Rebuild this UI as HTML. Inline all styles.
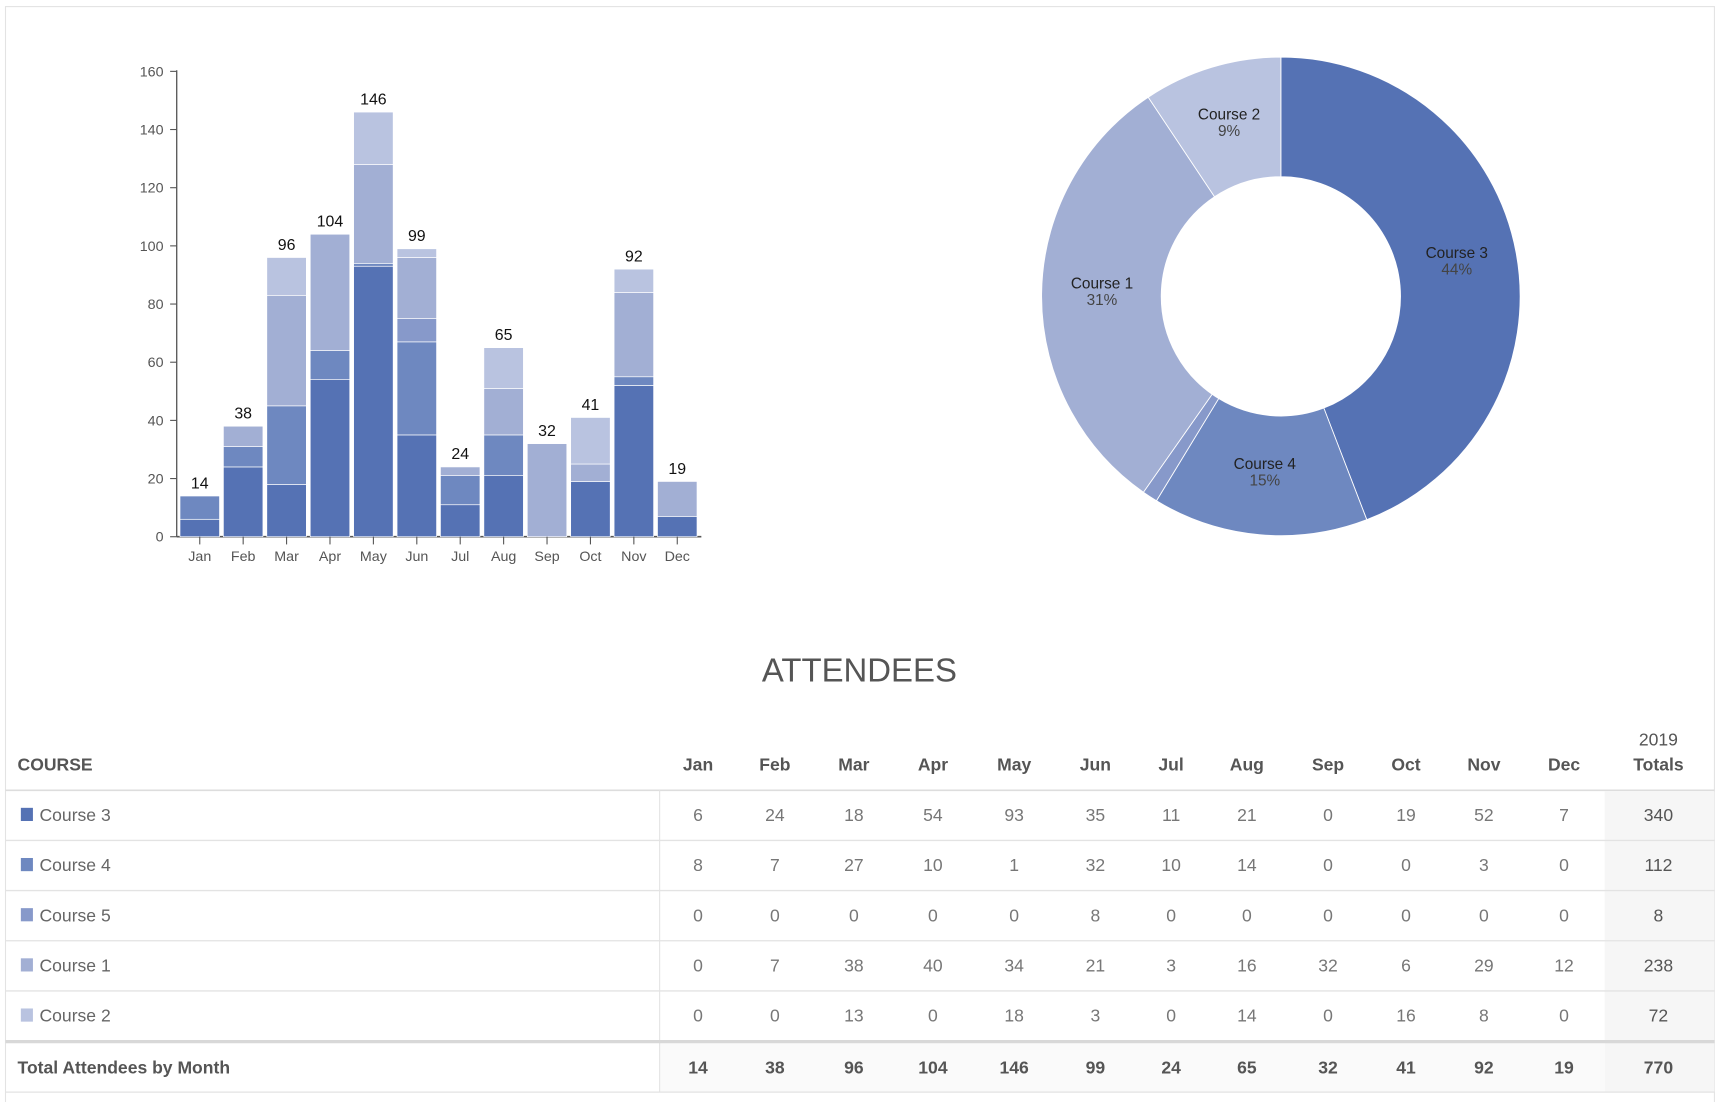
<!DOCTYPE html>
<html><head><meta charset="utf-8">
<style>
html,body{margin:0;padding:0;background:#fff;}
body{width:1721px;height:1102px;overflow:hidden;}
svg{display:block;font-family:"Liberation Sans",sans-serif;}
</style></head>
<body>
<svg id="s" width="1721" height="1102" viewBox="0 0 1568 1004" xmlns="http://www.w3.org/2000/svg">
<rect x="5" y="6" width="1557" height="1000" fill="#fff" stroke="#e3e3e3" stroke-width="1"/>
<g id="bars"></g>
<g id="donut"></g>
<text x="783" y="621" text-anchor="middle" font-size="30" fill="#555" font-weight="300">ATTENDEES</text>
<g id="table"></g>
</svg>
<script>
const NS="http://www.w3.org/2000/svg";
function el(p,t,a,txt){const e=document.createElementNS(NS,t);for(const k in a)e.setAttribute(k,a[k]);if(txt!==undefined)e.textContent=txt;p.appendChild(e);return e;}
const months=["Jan","Feb","Mar","Apr","May","Jun","Jul","Aug","Sep","Oct","Nov","Dec"];
const names=["Course 3","Course 4","Course 5","Course 1","Course 2"];
const cols=["#5572b4","#6e88c0","#8799ca","#a2afd4","#b9c3e0"];
const data=[[6,24,18,54,93,35,11,21,0,19,52,7],[8,7,27,10,1,32,10,14,0,0,3,0],[0,0,0,0,0,8,0,0,0,0,0,0],[0,7,38,40,34,21,3,16,32,6,29,12],[0,0,13,0,18,3,0,14,0,16,8,0]];
const tot=months.map((m,i)=>data.reduce((s,r)=>s+r[i],0));
const B=document.getElementById("bars");
const y0=489,k=2.65;
el(B,"line",{x1:161,y1:64,x2:161,y2:489,stroke:"#555","stroke-width":1.2});
el(B,"line",{x1:161,y1:489,x2:639,y2:489,stroke:"#555","stroke-width":1.5});
for(let v=0;v<=160;v+=20){const y=y0-v*k;el(B,"line",{x1:155,y1:y,x2:161,y2:y,stroke:"#555"});el(B,"text",{x:149,y:y+4.5,"text-anchor":"end","font-size":13,fill:"#555"},v);}
months.forEach((m,i)=>{const cx=182+i*39.55;let acc=0;
 data.forEach((r,j)=>{if(r[i]>0){el(B,"rect",{x:cx-18,y:y0-(acc+r[i])*k,width:36,height:r[i]*k,fill:cols[j],stroke:"#fff","stroke-width":0.6});}acc+=r[i];});
 el(B,"line",{x1:cx,y1:489,x2:cx,y2:496,stroke:"#555"});
 el(B,"text",{x:cx,y:511,"text-anchor":"middle","font-size":13,fill:"#555"},m);
 el(B,"text",{x:cx,y:y0-tot[i]*k-7,"text-anchor":"middle","font-size":14.5,fill:"#111"},tot[i]);
});
const D=document.getElementById("donut");const cx=1167,cy=270,R=218,r=109;
const sums=data.map(r=>r.reduce((a,b)=>a+b,0));const T=770;let a0=0;
function pt(rad,a){return [cx+rad*Math.sin(a),cy-rad*Math.cos(a)];}
sums.forEach((s,j)=>{const a1=a0+s/T*2*Math.PI;const L=(a1-a0)>Math.PI?1:0;
 const p1=pt(R,a0),p2=pt(R,a1),p3=pt(r,a1),p4=pt(r,a0);
 el(D,"path",{d:`M${p1[0]},${p1[1]}A${R},${R} 0 ${L} 1 ${p2[0]},${p2[1]}L${p3[0]},${p3[1]}A${r},${r} 0 ${L} 0 ${p4[0]},${p4[1]}Z`,fill:cols[j],stroke:"#fff","stroke-width":0.8});
 if(s>20){const m=pt(163,(a0+a1)/2);el(D,"text",{x:m[0],y:m[1]-5,"text-anchor":"middle","font-size":14,fill:"#222"},names[j]);
 el(D,"text",{x:m[0],y:m[1]+10,"text-anchor":"middle","font-size":14,fill:"#444"},Math.round(s/T*100)+"%");}
 a0=a1;});
const G=document.getElementById("table");
const mx=[636,706,778,850,924,998,1067,1136,1210,1281,1352,1425];
el(G,"rect",{x:1462,y:721,width:100,height:274,fill:"#f6f6f6"});
el(G,"rect",{x:601,y:949,width:861,height:46,fill:"#fafafa"});
el(G,"text",{x:16,y:702,"font-size":16,fill:"#555","font-weight":"bold"},"COURSE");
months.forEach((m,i)=>el(G,"text",{x:mx[i],y:702,"text-anchor":"middle","font-size":16,fill:"#555","font-weight":"bold"},m));
el(G,"text",{x:1511,y:679,"text-anchor":"middle","font-size":16,fill:"#555"},"2019");
el(G,"text",{x:1511,y:702,"text-anchor":"middle","font-size":16,fill:"#555","font-weight":"bold"},"Totals");
el(G,"line",{x1:5,y1:720,x2:1562,y2:720,stroke:"#ddd","stroke-width":1.5});
el(G,"line",{x1:601,y1:720,x2:601,y2:995,stroke:"#e3e3e3"});
data.forEach((row,j)=>{const top=720+j*45.7,yb=top+28;
 el(G,"rect",{x:19,y:top+16,width:11,height:12,fill:cols[j]});
 el(G,"text",{x:36,y:yb,"font-size":16,fill:"#666"},names[j]);
 row.forEach((v,i)=>el(G,"text",{x:mx[i],y:yb,"text-anchor":"middle","font-size":16,fill:"#777"},v));
 el(G,"text",{x:1511,y:yb,"text-anchor":"middle","font-size":16,fill:"#555"},sums[j]);
 if(j<4)el(G,"line",{x1:5,y1:top+45.7,x2:1562,y2:top+45.7,stroke:"#e3e3e3","stroke-width":1.2});
});
el(G,"line",{x1:5,y1:949,x2:1562,y2:949,stroke:"#d8d8d8","stroke-width":3});
el(G,"text",{x:16,y:978,"font-size":16,fill:"#555","font-weight":"bold"},"Total Attendees by Month");
tot.forEach((v,i)=>el(G,"text",{x:mx[i],y:978,"text-anchor":"middle","font-size":16,fill:"#555","font-weight":"bold"},v));
el(G,"text",{x:1511,y:978,"text-anchor":"middle","font-size":16,fill:"#555","font-weight":"bold"},"770");
el(G,"line",{x1:5,y1:995,x2:1562,y2:995,stroke:"#e3e3e3","stroke-width":1.2});
</script>
</body></html>
